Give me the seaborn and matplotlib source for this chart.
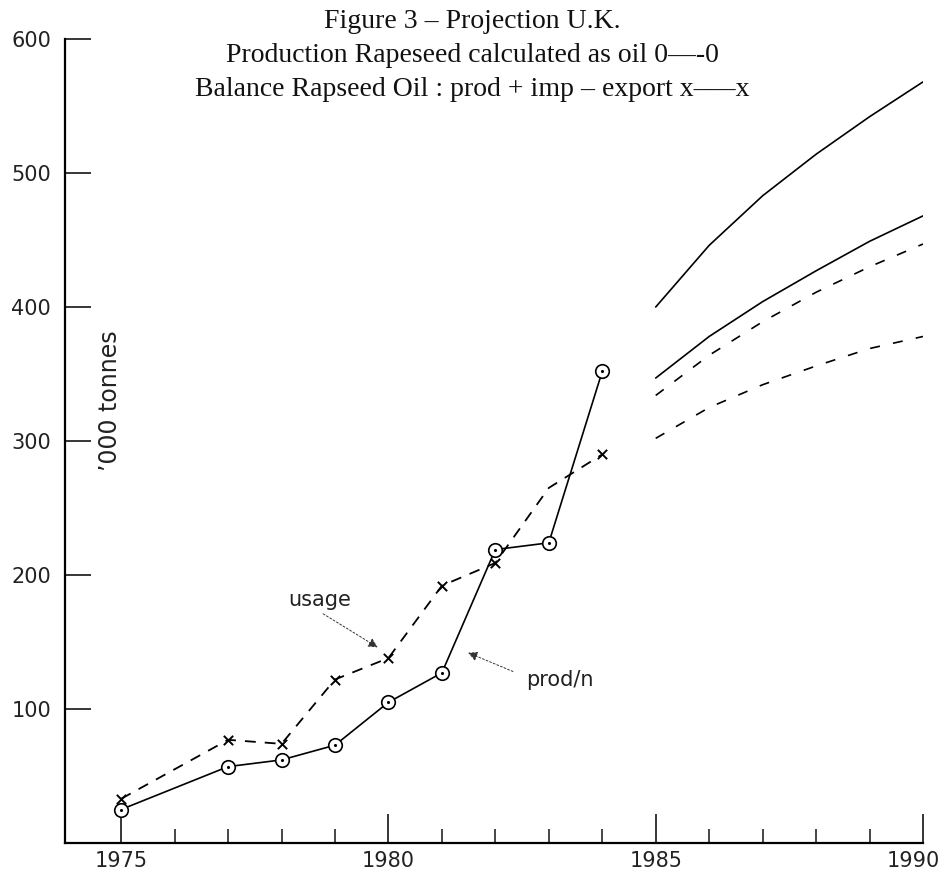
import matplotlib
matplotlib.use("Agg")
import matplotlib.pyplot as plt
import matplotlib.transforms as mtransforms
import seaborn as sns
import pandas as pd

# ---- data ----
hist_years = [1975, 1977, 1978, 1979, 1980, 1981, 1982, 1983, 1984]
production = [25, 57, 62, 73, 105, 127, 219, 224, 352]
usage = [33, 77, 74, 122, 138, 192, 209, 265, 290]
usage_marked = [True, True, True, True, True, True, True, False, True]

proj_years = [1985, 1986, 1987, 1988, 1989, 1990]
proj_high_solid = [400, 446, 483, 514, 542, 568]
proj_low_solid = [347, 378, 404, 427, 449, 468]
proj_high_dashed = [334, 364, 389, 411, 430, 447]
proj_low_dashed = [302, 325, 342, 356, 369, 378]

title_lines = ["Figure 3 \u2013 Projection U.K.",
               "Production Rapeseed calculated as oil 0\u2014-0",
               "Balance Rapseed Oil : prod + imp \u2013 export x\u2013\u2013\u2013x"]
y_ticks = [100, 200, 300, 400, 500, 600]
x_major = [1975, 1980, 1985, 1990]
x_minor = list(range(1975, 1991))
y_label = "\u2019000 tonnes"

sns.set_style("ticks")
plt.rcParams['font.family'] = ['DejaVu Sans']

fig = plt.figure(figsize=(9.46, 8.72), dpi=100)
ax = fig.add_axes([65/946, 29/872, (923-65)/946, (843-39)/872])

hist = pd.DataFrame({"year": hist_years, "production": production, "usage": usage,
                     "marked": usage_marked})
proj = pd.DataFrame({"year": proj_years, "hs": proj_high_solid, "ls": proj_low_solid,
                     "hd": proj_high_dashed, "ld": proj_low_dashed})

# usage (dashed, x markers)
sns.lineplot(data=hist, x="year", y="usage", ax=ax, color="black", lw=1.3,
             estimator=None)
ax.lines[-1].set_linestyle((0, (6, 5)))
sns.scatterplot(data=hist[hist["marked"]], x="year", y="usage", ax=ax, marker="x",
                s=45, color="black", linewidth=1.4, zorder=4)
# production (solid, circled dot)
sns.lineplot(data=hist, x="year", y="production", ax=ax, color="black", lw=1.2,
             estimator=None)
sns.scatterplot(data=hist, x="year", y="production", ax=ax, marker="o", s=95,
                facecolor="white", edgecolor="black", linewidth=1.2, zorder=5)
sns.scatterplot(data=hist, x="year", y="production", ax=ax, marker="o", s=5,
                color="black", linewidth=0, zorder=6)

# projections
for col, ls in [("hs", "-"), ("ls", "-"), ("hd", (0, (6, 8))), ("ld", (0, (6, 8)))]:
    sns.lineplot(data=proj, x="year", y=col, ax=ax, color="black", lw=1.2,
                 estimator=None)
    ax.lines[-1].set_linestyle(ls)

# annotations
txt_kw = dict(color="#222222")
ax.text(1978.72, 181, "usage", fontsize=15, ha="center", va="center", **txt_kw)
ax.annotate("", xy=(1979.80, 146), xytext=(1978.78, 171),
            arrowprops=dict(arrowstyle="-|>", lw=0.7, ls=(0, (2, 2)), color="0.2",
                            mutation_scale=14, shrinkA=0, shrinkB=0))
ax.text(1983.21, 122, "prod/n", fontsize=15, ha="center", va="center", **txt_kw)
ax.annotate("", xy=(1981.49, 142), xytext=(1982.33, 128),
            arrowprops=dict(arrowstyle="-|>", lw=0.7, ls=(0, (2, 2)), color="0.2",
                            mutation_scale=14, shrinkA=0, shrinkB=0))
ax.text(0.052, 0.55, y_label, transform=ax.transAxes, rotation=90, fontsize=17,
        ha="center", va="center", **txt_kw)

# axes styling
ax.set_xlim(1973.95, 1990)
ax.set_ylim(0, 600)
ax.set_xlabel("")
ax.set_ylabel("")
ax.set_yticks(y_ticks)
ax.set_yticklabels([str(v) for v in y_ticks])
ax.set_xticks(x_major)
ax.set_xticklabels([str(v) for v in x_major])
ax.set_xticks(x_minor, minor=True)
ax.tick_params(axis="y", direction="in", length=19, width=1.3, labelsize=15, pad=10,
               labelcolor="#222222")
ax.tick_params(axis="x", which="major", direction="in", length=21, width=1.3,
               labelsize=15, pad=6, labelcolor="#222222")
ax.tick_params(axis="x", which="minor", direction="in", length=10, width=1.2)
last = ax.get_xticklabels()[-1]
last.set_transform(last.get_transform() +
                   mtransforms.ScaledTranslation(-10/100, 0, fig.dpi_scale_trans))
sns.despine(ax=ax)
for s in ["left", "bottom"]:
    ax.spines[s].set_linewidth(1.6)
    ax.spines[s].set_color("black")

# title
for i, line in enumerate(title_lines):
    fig.text(472/946, 1 - (21 + 34*i)/872, line, ha="center", va="center",
             fontsize=20, color="#111111", family=["Liberation Serif", "DejaVu Serif"])

fig.savefig("out.png", dpi=100, facecolor="white")
